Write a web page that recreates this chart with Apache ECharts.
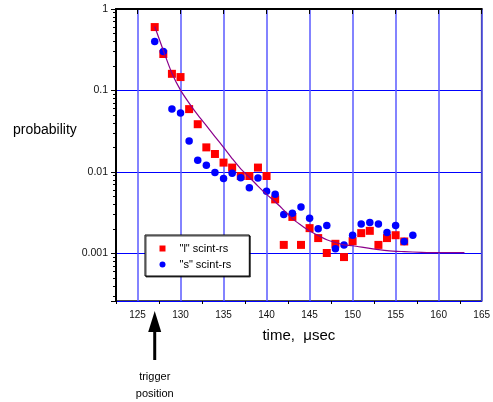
<!DOCTYPE html>
<html>
<head>
<meta charset="utf-8">
<script src="https://cdn.jsdelivr.net/npm/echarts@6/dist/echarts.min.js"></script>
<style>
  html, body { margin: 0; padding: 0; background: #fff; }
  #chart { width: 493px; height: 402px; }
</style>
</head>
<body>
<div id="chart"></div>
<script>
// "l" scint-rs (red squares)
var lTimes = [127, 128, 129, 130, 131, 132, 133, 134, 135, 136, 137, 138, 139, 140, 141,
              142, 143, 144, 145, 146, 147, 148, 149, 150, 151, 152, 153, 154, 155, 156];
var lScint = [0.60, 0.28, 0.16, 0.146, 0.059, 0.0385, 0.020, 0.0166, 0.013, 0.0113, 0.0089, 0.0089, 0.0113, 0.0089, 0.0046,
              0.00127, 0.0028, 0.00127, 0.00204, 0.00154, 0.00101, 0.00131, 0.0009, 0.00141, 0.00177, 0.00189, 0.00127, 0.00154, 0.00167, 0.0014];

// "s" scint-rs (blue dots)
var sTimes = [127, 128, 129, 130, 131, 132, 133, 134, 135, 136, 137, 138, 139, 140, 141, 142,
              143, 144, 145, 146, 147, 148, 149, 150, 151, 152, 153, 154, 155, 156, 157];
var sScint = [0.40, 0.30, 0.059, 0.053, 0.024, 0.0139, 0.0121, 0.0098, 0.0083, 0.0096, 0.0085, 0.0064, 0.0084, 0.0058, 0.0053, 0.0030,
              0.0031, 0.0037, 0.0027, 0.0020, 0.0022, 0.00114, 0.00127, 0.00167, 0.0023, 0.0024, 0.0023, 0.0018, 0.0022, 0.0014, 0.00167];

// fitted curve (purple)
var fitTimes = [127, 128, 129, 130, 131, 132, 133, 134, 135, 136, 137, 138, 139, 140, 141,
                142, 143, 144, 145, 146, 147, 148, 149, 150, 152, 154, 156, 158, 160, 163];
var fitValues = [0.61, 0.31, 0.163, 0.101, 0.070, 0.050, 0.037, 0.0272, 0.020, 0.0146, 0.0109, 0.0086, 0.0067, 0.0053, 0.0043,
                 0.0034, 0.00267, 0.00222, 0.00188, 0.00166, 0.00147, 0.00136, 0.00127, 0.00124, 0.00115, 0.00108, 0.00105, 0.00103, 0.00102, 0.00102];

var xTicks = [125, 130, 135, 140, 145, 150, 155, 160, 165];
var xMinorTicks = [122.5, 127.5, 132.5, 137.5, 142.5, 147.5, 152.5, 157.5, 162.5];
var yTicks = [0.001, 0.01, 0.1, 1];
var yTickLabels = ['0.001', '0.01', '0.1', '1'];
var yMinorTicks = [0.0003, 0.0004, 0.0005, 0.0006, 0.0007, 0.0008, 0.0009,
                   0.002, 0.003, 0.004, 0.005, 0.006, 0.007, 0.008, 0.009,
                   0.02, 0.03, 0.04, 0.05, 0.06, 0.07, 0.08, 0.09,
                   0.2, 0.3, 0.4, 0.5, 0.6, 0.7, 0.8, 0.9];
var triggerTime = 127;

var xMin = 122.5, xMax = 165;
var yMin = 0.00026, yMax = 1;
var FONT = 'Liberation Sans, Arial, sans-serif';

function pairs(xs, ys) {
    return xs.map(function (x, i) { return [x, ys[i]]; });
}

var chart = echarts.init(document.getElementById('chart'), null, { renderer: 'canvas' });

var option = {
    animation: false,
    backgroundColor: '#fff',
    textStyle: { fontFamily: FONT },
    grid: {
        left: 116, right: 11, top: 9, bottom: 101,
        show: true, borderColor: '#111', borderWidth: 1.5, backgroundColor: 'transparent'
    },
    legend: {
        orient: 'vertical',
        left: 145, top: 235,
        padding: [7, 18, 5, 14.5],
        itemWidth: 6, itemHeight: 6, itemGap: 3,
        backgroundColor: '#fff',
        borderColor: '#000', borderWidth: 1,
        shadowColor: 'rgba(0,0,0,0.7)', shadowOffsetX: 1, shadowOffsetY: 1, shadowBlur: 0,
        textStyle: { fontSize: 11, color: '#000', fontFamily: FONT, lineHeight: 13, padding: [0, 0, 0, 9] },
        data: [
            { name: '"l" scint-rs', icon: 'rect' },
            { name: '"s" scint-rs', icon: 'circle' }
        ]
    },
    xAxis: [{
        type: 'value', min: xMin, max: xMax, position: 'bottom',
        name: 'time,  \u03bcsec', nameLocation: 'middle', nameGap: 27,
        nameTextStyle: { fontSize: 15, color: '#000', fontFamily: FONT },
        axisLine: { show: true, lineStyle: { color: '#000', width: 2 } },
        axisTick: { show: true, length: 5, customValues: xTicks, lineStyle: { color: '#000', width: 1 } },
        axisLabel: { customValues: xTicks, margin: 9, fontSize: 10, color: '#111', fontFamily: FONT },
        splitLine: { show: true, lineStyle: { color: '#5a5aff', width: 1.5 } }
    }, {
        type: 'value', min: xMin, max: xMax, position: 'bottom',
        axisLine: { show: false },
        axisTick: { show: true, length: 3, customValues: xMinorTicks, lineStyle: { color: '#000', width: 1 } },
        axisLabel: { show: false },
        splitLine: { show: false }
    }],
    yAxis: [{
        type: 'log', logBase: 10, min: yMin, max: yMax, position: 'left',
        axisLine: { show: true, lineStyle: { color: '#000', width: 2 } },
        axisTick: { show: true, length: 5, lineStyle: { color: '#000', width: 1 } },
        axisLabel: {
            margin: 8, fontSize: 10.5, color: '#111', fontFamily: FONT,
            formatter: function (v) {
                for (var i = 0; i < yTicks.length; i++) {
                    if (Math.abs(Math.log10(v) - Math.log10(yTicks[i])) < 1e-6) return yTickLabels[i];
                }
                return '';
            }
        },
        splitLine: { show: true, lineStyle: { color: '#0000ff', width: 1 } }
    }, {
        type: 'value', min: Math.log10(yMin), max: Math.log10(yMax), position: 'left',
        axisLine: { show: false },
        axisTick: { show: true, length: 3, customValues: yMinorTicks.map(Math.log10), lineStyle: { color: '#000', width: 1 } },
        axisLabel: { show: false },
        splitLine: { show: false }
    }],
    series: [{
        name: '"l" scint-rs', type: 'scatter', xAxisIndex: 0, yAxisIndex: 0,
        symbol: 'rect', symbolSize: 8, z: 2,
        itemStyle: { color: '#ff0000', opacity: 1 },
        data: pairs(lTimes, lScint)
    }, {
        name: '"s" scint-rs', type: 'scatter', xAxisIndex: 0, yAxisIndex: 0,
        symbol: 'circle', symbolSize: 7.5, z: 3,
        itemStyle: { color: '#0000ff', opacity: 1 },
        data: pairs(sTimes, sScint)
    }, {
        name: 'fit', type: 'line', xAxisIndex: 0, yAxisIndex: 0,
        showSymbol: false, smooth: 0.3, z: 4, silent: true,
        lineStyle: { color: '#8b008b', width: 1.2 },
        data: pairs(fitTimes, fitValues)
    }]
};

chart.setOption(option);

// trigger arrow under the x axis, placed at the trigger time
var px = chart.convertToPixel({ xAxisIndex: 0 }, triggerTime);
chart.setOption({
    graphic: [
        { type: 'text', left: 13, top: 123,
          style: { text: 'probability', fontSize: 14, fill: '#000', fontFamily: FONT } },
        { type: 'polygon', shape: { points: [[px, 311], [px - 6.5, 332], [px + 6.5, 332]] }, style: { fill: '#000' } },
        { type: 'rect', shape: { x: px - 1.5, y: 331, width: 3, height: 29 }, style: { fill: '#000' } },
        { type: 'text', x: px, y: 377,
          style: { text: 'trigger', fontSize: 11, fill: '#000', align: 'center', verticalAlign: 'middle', fontFamily: FONT } },
        { type: 'text', x: px, y: 394,
          style: { text: 'position', fontSize: 11, fill: '#000', align: 'center', verticalAlign: 'middle', fontFamily: FONT } }
    ]
});
</script>
</body>
</html>
